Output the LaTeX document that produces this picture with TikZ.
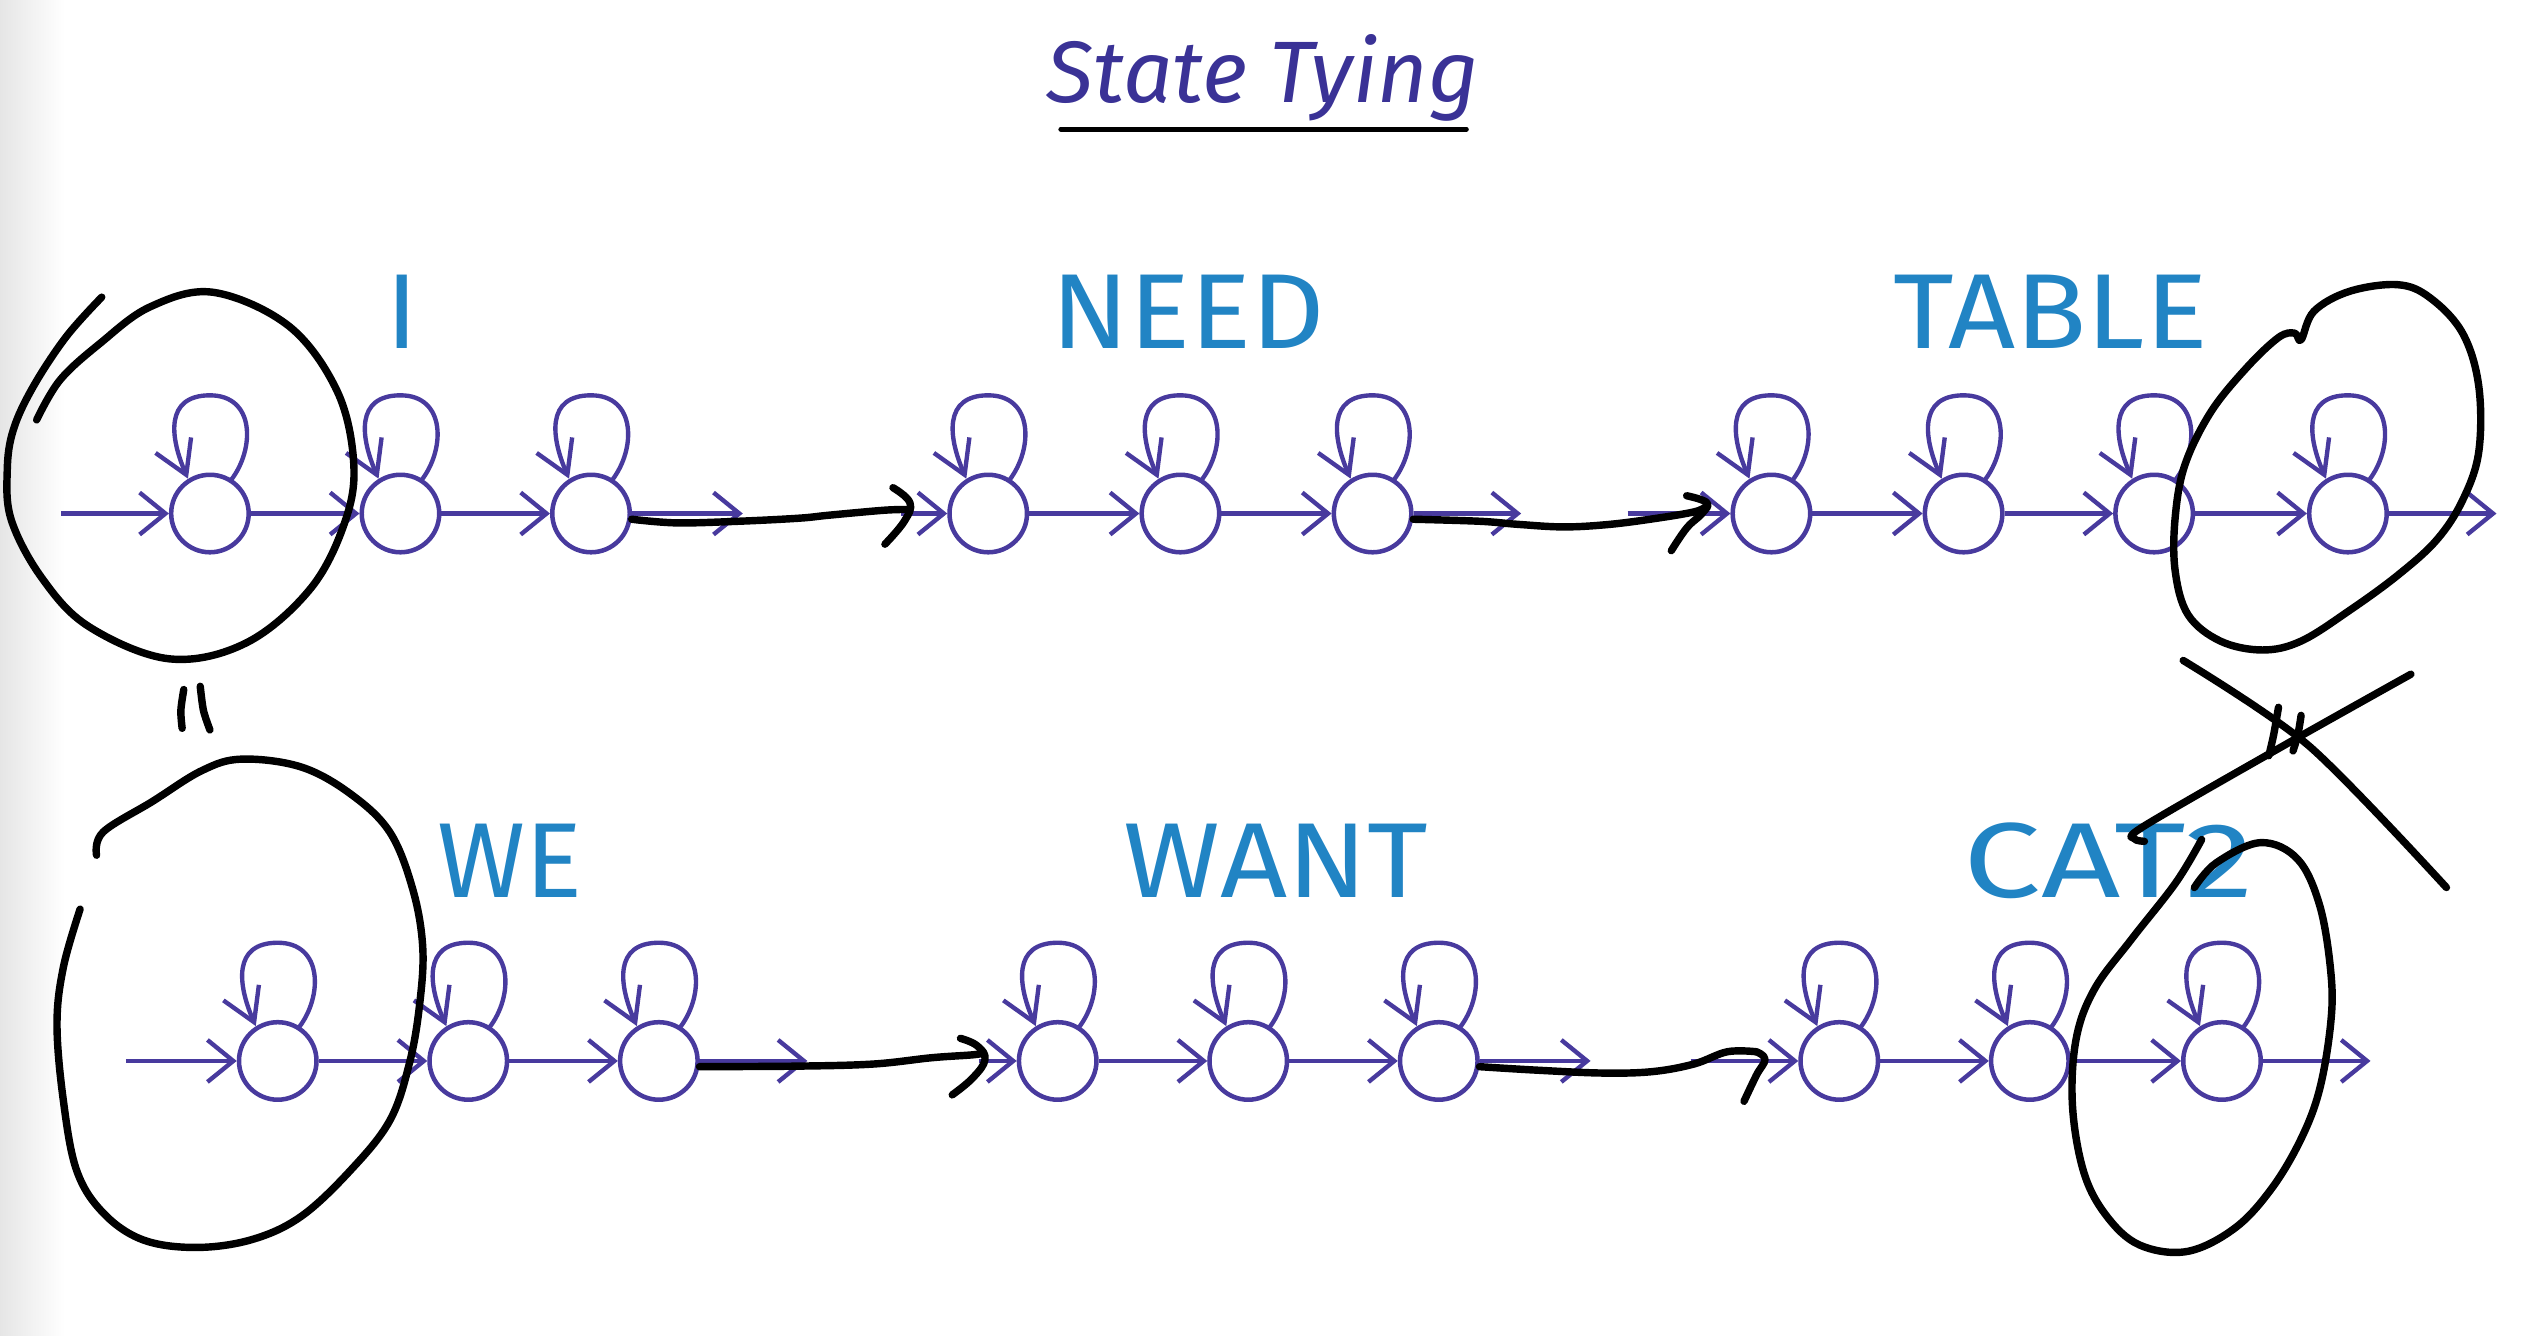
\documentclass[tikz,border=0pt]{standalone}
\usepackage{fontspec}
\setmainfont{Fira Sans}
\usetikzlibrary{arrows.meta,calc}
\definecolor{stc}{RGB}{72,58,158}
\definecolor{lbc}{RGB}{33,132,196}
\definecolor{ttc}{RGB}{58,50,150}
\tikzset{
  st/.style={circle,draw=stc,line width=1.4pt,minimum size=24pt,inner sep=0pt,fill=white},
  fw/.style={draw=stc,line width=1.35pt,-{Straight Barb[length=8pt,width=13pt]}},
  lp/.style={draw=stc,line width=1.35pt,-{Straight Barb[length=10pt,width=12pt]}},
  ink/.style={draw=black,line width=2.3pt,line cap=round,line join=round},
  lbl/.style={text=lbc,font=\fontsize{33}{33}\selectfont,inner sep=0pt},
}
\newcommand\sloop[1]{\draw[lp] ($(#1)+(6.5pt,10.3pt)$) .. controls ($(#1)+(14pt,20pt)$) and ($(#1)+(14pt,36.6pt)$) .. ($(#1)+(0pt,36.6pt)$) .. controls ($(#1)+(-14pt,36.6pt)$) and ($(#1)+(-12.4pt,23.6pt)$) .. ($(#1)+(-6.8pt,10.8pt)$);}
\begin{document}
\begin{tikzpicture}[x=0.5pt,y=-0.5pt]
\useasboundingbox (0,0) rectangle (1568,827);
\fill[white] (0,0) rectangle (1568,827);
\shade[left color=black!10,right color=white] (0,0) rectangle (40,827);
% title
\node[text=ttc,font=\fontsize{27}{27}\selectfont\itshape,inner sep=0pt] (title) at (782,48) {State Tying};
\coordinate (ula) at (657,80);
\coordinate (ulb) at (908,80);
\draw[black,line width=1.6pt,line cap=round] (ula) -- (ulb);
% labels
\node[lbl] (lI) at (249,193) {I};
\node[lbl,xscale=1.07] (lNEED) at (736,193) {NEED};
\node[lbl,xscale=1.1] (lTABLE) at (1270,193) {TABLE};
\node[lbl] (lWE) at (316,533) {WE};
\node[lbl,xscale=1.1] (lWANT) at (790,533) {WANT};
\node[lbl,xscale=1.3] (lCAT) at (1306,533) {CAT2};
% states
\foreach \n/\x in {i1/130,i2/248,i3/366,n1/612,n2/731,n3/850,t1/1097,t2/1216,t3/1334,t4/1454}
  \node[st] (\n) at (\x,318) {};
\foreach \n/\x in {w1/172,w2/290,w3/408,a1/655,a2/773,a3/891,c1/1139,c2/1257,c3/1376}
  \node[st] (\n) at (\x,657) {};
\foreach \n in {i1,i2,i3,n1,n2,n3,t1,t2,t3,t4,w1,w2,w3,a1,a2,a3,c1,c2,c3}
  \sloop{\n};
% top row arrows
\coordinate (s1) at (38,318);
\coordinate (o1) at (460,318);
\coordinate (e1) at (558,318);
\coordinate (o2) at (942,318);
\coordinate (e2) at (1008,318);
\coordinate (f1) at (1546,318);
\draw[fw] (s1) -- (i1);
\draw[fw] (i1) -- (i2);
\draw[fw] (i2) -- (i3);
\draw[fw] (i3) -- (o1);
\draw[fw] (e1) -- (n1);
\draw[fw] (n1) -- (n2);
\draw[fw] (n2) -- (n3);
\draw[fw] (n3) -- (o2);
\draw[fw] (e2) -- (t1);
\draw[fw] (t1) -- (t2);
\draw[fw] (t2) -- (t3);
\draw[fw] (t3) -- (t4);
\draw[fw] (t4) -- (f1);
% bottom row arrows
\coordinate (s2) at (78,657);
\coordinate (o3) at (500,657);
\coordinate (e3) at (606,657);
\coordinate (o4) at (985,657);
\coordinate (e4) at (1047,657);
\coordinate (f2) at (1468,657);
\draw[fw] (s2) -- (w1);
\draw[fw] (w1) -- (w2);
\draw[fw] (w2) -- (w3);
\draw[fw] (w3) -- (o3);
\draw[fw] (e3) -- (a1);
\draw[fw] (a1) -- (a2);
\draw[fw] (a2) -- (a3);
\draw[fw] (a3) -- (o4);
\draw[fw] (e4) -- (c1);
\draw[fw] (c1) -- (c2);
\draw[fw] (c2) -- (c3);
\draw[fw] (c3) -- (f2);
% black hand-drawn arrows
\draw[ink] plot[smooth,tension=0.6] coordinates {(i3.-8) (419,323.8) (457,322.8) (494.7,320.9) (513.7,319) (547,316) (561,315.5)};
\draw[ink] plot[smooth,tension=0.7] coordinates {(553,302) (563.5,311.3) (560,322.8) (548,337)};
\draw[ink] plot[smooth,tension=0.6] coordinates {(n3.-8) (916.5,322.8) (940,324.7) (968.6,326.3) (997,324.7) (1025.5,321) (1049,317) (1056,314)};
\draw[ink] plot[smooth,tension=0.7] coordinates {(1044.5,307) (1057,311.3) (1054,318) (1044.5,327) (1035,341)};
\draw[ink] plot[smooth,tension=0.6] coordinates {(w3.-8) (494.7,660.2) (541,658.9) (577,655) (602.5,653.2) (609,652)};
\draw[ink] plot[smooth,tension=0.7] coordinates {(594.8,643) (605,647.5) (610,656) (602.5,667.4) (589.7,678)};
\draw[ink] plot[smooth,tension=0.6] coordinates {(a3.-8) (951.6,662.7) (992.7,664.5) (1023.4,663.6) (1049,658.9) (1069.7,651.3) (1087.6,651.3)};
\draw[ink] plot[smooth,tension=0.7] coordinates {(1087.6,651.3) (1093,656) (1087.6,666) (1080,682)};
% top-left ring (open spiral)
\draw[ink] plot[smooth,tension=0.6] coordinates {(63,184) (41,208.5) (20.6,239.4) (8.3,266) (4.5,291) (7,322) (26,358) (55,388) (105,408) (152.7,398) (192.7,364) (214,322) (219,286) (208.7,242) (179,202) (132,181) (93,190) (62,212.6) (37.2,235.3) (22.7,260)};
% equals marks left
\draw[ink] plot[smooth] coordinates {(113.8,427) (112,440) (112.8,451)};
\draw[ink] plot[smooth] coordinates {(124,425) (126,440) (130,452)};
% bottom-left ring (open)
\draw[ink] plot[smooth,tension=0.6] coordinates {(59.8,529.6) (63.8,515.3) (94.4,496.3) (125,477.2) (149.6,470.1) (186.3,474.9) (216.9,491.5) (241.4,515.3) (255.7,551) (261.8,586.8) (259.8,622.5) (253.6,658.2) (241.4,693.9) (216.9,724.9) (186.3,753.4) (155.7,767.7) (121,772.5) (88.3,767.7) (63.8,751) (47.5,724.9) (39.3,682) (35.3,634.4) (39.3,598.7) (49.6,563)};
% top-right ring
\draw[ink] plot[smooth cycle,tension=0.6] coordinates {(1425,210.4) (1433,192.7) (1455,180.4) (1485,176.3) (1505,184.5) (1525,206.3) (1535,239) (1535,279.9) (1525,309.8) (1509,334.3) (1485,356.1) (1455,378) (1425,397) (1401,402.5) (1375,397) (1355,380.7) (1347,353.4) (1347,320.7) (1353,288) (1369,255.3) (1391,228) (1411,209) (1421,206.3)};
% cross
\draw[ink] plot[smooth,tension=0.5] coordinates {(1352,409) (1430,462) (1515,549.6)};
\draw[ink] plot[smooth,tension=0.5] coordinates {(1493,417.5) (1413,462.4) (1327,512) (1322,519.5) (1328,521)};
\draw[ink] plot[smooth] coordinates {(1411,438) (1408,455) (1405,468)};
\draw[ink] plot[smooth] coordinates {(1425,443) (1423,455) (1420,465)};
% bottom-right ring
\draw[ink] plot[smooth,tension=0.6] coordinates {(1358.9,549.6) (1372.6,534.2) (1400,521.8) (1422.9,532.1) (1436.6,561) (1443.4,602) (1443.4,632.9) (1436.6,674) (1425.1,705) (1406.9,735.8) (1384,760.5) (1354.3,775) (1324.6,770.8) (1304,752.3) (1290.3,725.5) (1283.4,684.4) (1285.7,643.3) (1297.1,612.4) (1320,581.6) (1347.4,546.6) (1363.4,519.9)};
\end{tikzpicture}
\end{document}
